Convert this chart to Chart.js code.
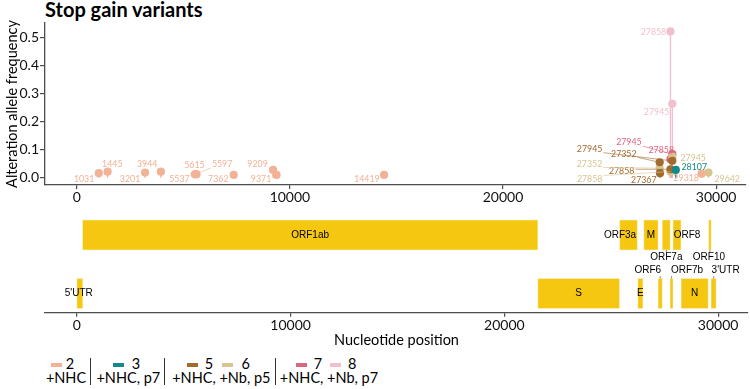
<!DOCTYPE html>
<html>
<head>
<meta charset="utf-8">
<script src="https://cdn.jsdelivr.net/npm/chart.js@4.4.0/dist/chart.umd.min.js"></script>
<style>
  body { margin: 0; width: 750px; height: 389px; position: relative; background: #fff; overflow: hidden; font-family: Lato, sans-serif; }
  #topChart { position: absolute; left: 0; top: 0; }
  #geneChart { position: absolute; left: 0; top: 205px; }
  #title { position: absolute; left: 45px; top: -3px; font-weight: bold; font-size: 20px; color: #000; white-space: nowrap; }
  .lg { position: absolute; font-size: 14.5px; color: #000; white-space: nowrap; transform: translate(-50%, -50%); line-height: 1; }
  .sw { position: absolute; width: 11px; height: 4px; }
  .sep { position: absolute; width: 1px; top: 358px; height: 27px; background: #333; }
</style>
</head>
<body>
<div id="title">Stop gain variants</div>
<canvas id="topChart" width="750" height="205"></canvas>
<canvas id="geneChart" width="750" height="145"></canvas>
<div id="legend"></div>
<script>
// samples
const sampleNames = ['2', '3', '5', '6', '7', '8'];
const sampleColors = ['#F2B295', '#13898A', '#A36A2E', '#D8C491', '#DA6782', '#F2BFCC'];
const groupNames = ['+NHC', '+NHC, p7', '+NHC, +Nb, p5', '+NHC, +Nb, p7'];

// stop gain positions and alteration allele frequencies per sample
const pos2 = [1031, 1445, 3201, 3944, 5537, 5597, 5615, 7362, 9209, 9371, 14419, 29318];
const af2  = [0.016, 0.0215, 0.018, 0.0215, 0.012, 0.013, 0.012, 0.0097, 0.0276, 0.0097, 0.0097, 0.0143];
const pos3 = [28107];
const af3  = [0.0276];
const pos5 = [27352, 27367, 27858, 27945];
const af5  = [0.055, 0.016, 0.03, 0.06];
const pos6 = [27352, 27858, 27945, 29642];
const af6  = [0.034, 0.0215, 0.075, 0.018];
const pos7 = [27858, 27945];
const af7  = [0.066, 0.084];
const pos8 = [27858, 27945];
const af8  = [0.523, 0.264];

const positions = [pos2, pos3, pos5, pos6, pos7, pos8];
const freqs = [af2, af3, af5, af6, af7, af8];

// repel label offsets in px (label centre minus point)
const labelNudge = [
  [[-14.7, 5.7], [4.7, -7], [-15, 6.3], [-13.7, -7], [-15.4, 4.7], [26, -9.6], [-2.1, -9.6], [-15.4, 4], [-15.5, -6], [-15.5, 4], [-17.2, 4], [-15.4, 4.5]],
  [[18.5, -3.2]],
  [[-35.9, -8.4], [-16.2, 6.9], [-48.8, 2.4], [-82.7, -11.7]],
  [[-70.2, -4.2], [-80.8, 7.4], [20.9, 1.8], [18.7, 6.3]],
  [[-9.2, -9.3], [-43.4, -11.6]],
  [[-17, 1], [-15.7, 8.2]]
];

const xTicks = [0, 10000, 20000, 30000];
const yTicks = [0, 0.1, 0.2, 0.3, 0.4, 0.5];

// genome map
const geneNames = ["5'UTR", 'ORF1ab', 'S', 'ORF3a', 'E', 'M', 'ORF6', 'ORF7a', 'ORF7b', 'ORF8', 'N', 'ORF10', "3'UTR"];
const geneStart = [1, 266, 21563, 25393, 26245, 26523, 27202, 27394, 27756, 27894, 28274, 29558, 29675];
const geneEnd   = [265, 21555, 25384, 26220, 26472, 27191, 27387, 27759, 27887, 28259, 29533, 29674, 29903];
const geneRow   = [2, 1, 2, 1, 2, 1, 2, 1, 2, 1, 2, 1, 2];
const geneNudge = [[-1, 0], [0, 0], [0, 0], [-8.5, 0], [0, 0], [0, 0], [-12.5, -22.8], [0, 22.7], [15.5, -22.8], [10, 0], [0, 0], [-1, 22.7], [12, -22.8]];

const axisColor = '#4d4d4d';
const xMin = -1494, xMax = 31398;

// lollipop stems
const stemPlugin = {
  id: 'stems',
  beforeDatasetsDraw(chart) {
    const ctx = chart.ctx;
    const y0 = chart.scales.y.getPixelForValue(0);
    ctx.save();
    chart.data.datasets.forEach((ds, di) => {
      const meta = chart.getDatasetMeta(di);
      ctx.strokeStyle = ds.backgroundColor;
      ctx.lineWidth = 1.3;
      meta.data.forEach(el => {
        ctx.beginPath();
        ctx.moveTo(el.x, y0);
        ctx.lineTo(el.x, el.y);
        ctx.stroke();
      });
    });
    ctx.restore();
  }
};

// position labels
const labelPlugin = {
  id: 'posLabels',
  afterDatasetsDraw(chart) {
    const ctx = chart.ctx;
    ctx.save();
    ctx.font = '8.8px Lato';
    ctx.textAlign = 'center';
    ctx.textBaseline = 'middle';
    chart.data.datasets.forEach((ds, di) => {
      const meta = chart.getDatasetMeta(di);
      meta.data.forEach((el, i) => {
        const txt = String(positions[di][i]);
        const [dx, dy] = labelNudge[di][i];
        const lx = el.x + dx, ly = el.y + dy;
        const w = ctx.measureText(txt).width, h = 7;
        const cx = Math.max(lx - w / 2 - 1, Math.min(el.x, lx + w / 2 + 1));
        const cy = Math.max(ly - h / 2, Math.min(el.y, ly + h / 2));
        const dist = Math.hypot(el.x - cx, el.y - cy);
        if (dist > 12) {
          ctx.strokeStyle = ds.backgroundColor;
          ctx.lineWidth = 0.6;
          ctx.beginPath();
          ctx.moveTo(cx, cy);
          ctx.lineTo(el.x, el.y);
          ctx.stroke();
        }
        ctx.fillStyle = ds.backgroundColor;
        ctx.fillText(txt, lx, ly);
      });
    });
    ctx.restore();
  }
};

const tickFont = { family: 'Lato', size: 14 };

new Chart(document.getElementById('topChart'), {
  type: 'scatter',
  data: {
    datasets: sampleNames.map((s, k) => ({
      label: s,
      data: positions[k].map((p, i) => ({ x: p, y: freqs[k][i] })),
      backgroundColor: sampleColors[k],
      borderWidth: 0,
      pointRadius: 4.1,
      pointHoverRadius: 4.1
    }))
  },
  options: {
    responsive: false,
    animation: false,
    layout: { padding: { top: 23, right: 2, left: 0, bottom: 0 } },
    plugins: { legend: { display: false }, tooltip: { enabled: false } },
    scales: {
      x: {
        type: 'linear', min: xMin, max: xMax,
        afterBuildTicks: s => { s.ticks = xTicks.map(v => ({ value: v })); },
        afterFit: s => { s.height = 20; },
        grid: { drawOnChartArea: false, drawTicks: true, tickLength: 4, color: axisColor, lineWidth: 1.2 },
        border: { display: true, color: axisColor, width: 1.3 },
        ticks: { font: tickFont, color: '#111', padding: 0, maxRotation: 0, callback: v => String(v) }
      },
      y: {
        type: 'linear', min: -0.0263, max: 0.553,
        afterBuildTicks: s => { s.ticks = yTicks.map(v => ({ value: v })); },
        afterFit: s => { s.width = 45; },
        grid: { drawOnChartArea: false, drawTicks: true, tickLength: 5, color: axisColor, lineWidth: 1.2 },
        border: { display: true, color: axisColor, width: 1.3 },
        ticks: { font: tickFont, color: '#111', padding: 1, callback: v => v.toFixed(1) },
        title: { display: true, text: 'Alteration allele frequency', font: { family: 'Lato', size: 14.5 }, color: '#000', padding: { top: 4, bottom: 4 } }
      }
    }
  },
  plugins: [stemPlugin, labelPlugin]
});

// gene labels
const geneLabelPlugin = {
  id: 'geneLabels',
  afterDatasetsDraw(chart) {
    const ctx = chart.ctx;
    const xs = chart.scales.x, ys = chart.scales.y;
    ctx.save();
    ctx.font = '10px "Liberation Sans"';
    ctx.textAlign = 'center';
    ctx.textBaseline = 'middle';
    geneNames.forEach((g, i) => {
      const gx = xs.getPixelForValue((geneStart[i] + geneEnd[i]) / 2);
      const gy = ys.getPixelForValue(geneRow[i]);
      const [dx, dy] = geneNudge[i];
      const lx = gx + dx, ly = gy + dy;
      if (dy !== 0) {
        const edge = gy + Math.sign(dy) * 15;
        const tEdge = ly - Math.sign(dy) * 5.5;
        ctx.strokeStyle = '#555';
        ctx.lineWidth = 0.7;
        ctx.beginPath();
        ctx.moveTo(gx, edge);
        ctx.lineTo(gx, tEdge);
        ctx.stroke();
      }
      ctx.fillStyle = '#000';
      ctx.fillText(g, lx, ly);
    });
    ctx.restore();
  }
};

new Chart(document.getElementById('geneChart'), {
  type: 'bar',
  data: {
    datasets: [{
      data: geneNames.map((g, i) => ({ x: [geneStart[i], geneEnd[i]], y: geneRow[i] })),
      backgroundColor: '#F5C710',
      borderColor: '#F9DC73',
      borderWidth: 0.8,
      borderSkipped: false,
      barThickness: 30
    }]
  },
  options: {
    indexAxis: 'y',
    responsive: false,
    animation: false,
    layout: { padding: { top: 5, right: 2, left: 45, bottom: 0 } },
    plugins: { legend: { display: false }, tooltip: { enabled: false } },
    scales: {
      y: { type: 'linear', display: false, reverse: true, offset: false, min: 0.5726, max: 2.328 },
      x: {
        type: 'linear', min: xMin, max: xMax,
        afterBuildTicks: s => { s.ticks = xTicks.map(v => ({ value: v })); },
        afterFit: s => { s.height = 37.3; },
        grid: { drawOnChartArea: false, drawTicks: true, tickLength: 4, color: axisColor, lineWidth: 1.2 },
        border: { display: true, color: axisColor, width: 1.3 },
        ticks: { font: tickFont, color: '#111', padding: 0, maxRotation: 0, callback: v => String(v) },
        title: { display: true, text: 'Nucleotide position', font: { family: 'Lato', size: 14.5 }, color: '#000', padding: { top: 1, bottom: 1 } }
      }
    }
  },
  plugins: [geneLabelPlugin]
});

// legend
const legend = document.getElementById('legend');
const swatchX = [51, 113, 187, 221.7, 296, 330];
const numX = [70, 136, 209, 245.7, 318, 352.3];
const groupX = [66, 128.3, 221.3, 329];
const sepX = [90, 164, 275.3];
sampleNames.forEach((s, k) => {
  const sw = document.createElement('div');
  sw.className = 'sw';
  sw.style.left = swatchX[k] + 'px';
  sw.style.top = '363px';
  sw.style.background = sampleColors[k];
  legend.appendChild(sw);
  const n = document.createElement('div');
  n.className = 'lg';
  n.style.left = numX[k] + 'px';
  n.style.top = '364px';
  n.textContent = s;
  legend.appendChild(n);
});
groupNames.forEach((g, k) => {
  const d = document.createElement('div');
  d.className = 'lg';
  d.style.left = groupX[k] + 'px';
  d.style.top = '378px';
  d.textContent = g;
  legend.appendChild(d);
});
sepX.forEach(x => {
  const d = document.createElement('div');
  d.className = 'sep';
  d.style.left = x + 'px';
  legend.appendChild(d);
});
</script>
</body>
</html>
